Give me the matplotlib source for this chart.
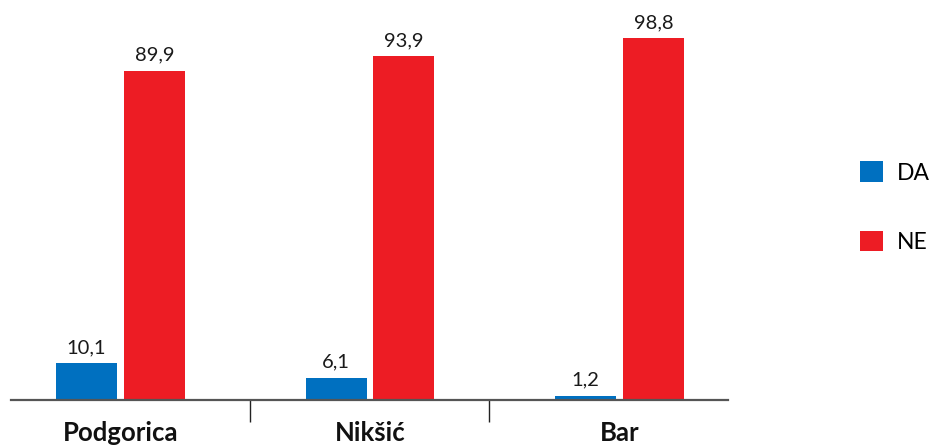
"""Grouped bar chart: DA / NE share by city."""
import matplotlib
matplotlib.use("Agg")
import matplotlib.pyplot as plt
import numpy as np

plt.rcParams["font.family"] = ["Lato", "DejaVu Sans"]

cities = ["Podgorica", "Nikšić", "Bar"]
series_names = ["DA", "NE"]
da_values = [10.1, 6.1, 1.2]
ne_values = [89.9, 93.9, 98.8]

BLUE = "#0070C0"
RED = "#ED1C24"

W, H = 935, 446
fig = plt.figure(figsize=(W / 100, H / 100), dpi=100)
# axes placed in pixel terms: x 11..728, baseline at y=400, 100 units ~ 366 px
ax = fig.add_axes([11 / W, 46 / H, 717 / W, 366.4 / H])

x = np.arange(len(cities))
bw = 0.2445
off = 0.136
b1 = ax.bar(x - off, da_values, bw, color=BLUE, label=series_names[0])
b2 = ax.bar(x + off, ne_values, bw, color=RED, label=series_names[1])

for bars, vals in ((b1, da_values), (b2, ne_values)):
    for r, v in zip(bars, vals):
        ax.annotate(f"{v:.1f}".replace(".", ","),
                    (r.get_x() + r.get_width() / 2, v),
                    xytext=(0, 5), textcoords="offset points",
                    ha="center", va="bottom", fontsize=14.5, color="#1a1a1a",
                    annotation_clip=False)

ax.set_xlim(-0.439, 2.435)
ax.set_ylim(0, 100)
for s in ("top", "right", "left"):
    ax.spines[s].set_visible(False)
ax.spines["bottom"].set_color("#555555")
ax.spines["bottom"].set_linewidth(1.6)
ax.set_yticks([])

ax.set_xticks(x)
ax.set_xticklabels(cities, fontsize=18.5, fontweight="bold", color="#111111")
ax.tick_params(axis="x", which="major", length=0, pad=15)
# separators between groups
ax.set_xticks([0.519, 1.477], minor=True)
ax.tick_params(axis="x", which="minor", length=16, width=1.0, color="#222222")

fig.legend(handles=[b1, b2], labels=series_names, loc="upper left",
           bbox_to_anchor=(849 / W, 1 - 150 / H), frameon=False,
           fontsize=16.5, handlelength=1.0, handleheight=1.0,
           handletextpad=0.6, labelspacing=2.05, borderpad=0)

fig.savefig("out.png", dpi=100)
